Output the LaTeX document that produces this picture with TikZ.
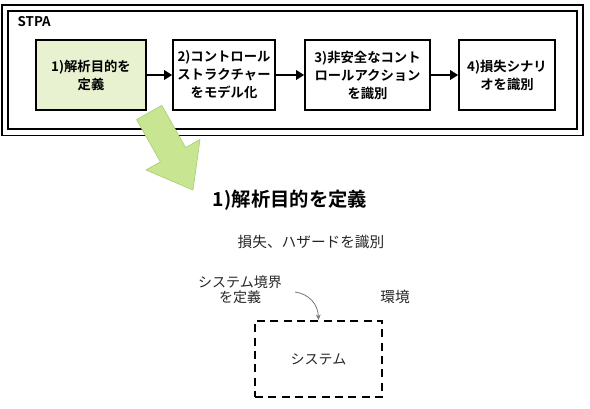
\documentclass[tikz,border=0pt]{standalone}
\usepackage{fontspec}
\setmainfont{Noto Sans CJK JP}[BoldFont={Noto Sans CJK JP Bold}]
\usetikzlibrary{positioning, arrows.meta, calc}
\definecolor{stepgreen}{RGB}{232,241,208}
\definecolor{zoomfill}{RGB}{200,229,146}
\definecolor{zoomedge}{RGB}{172,206,118}
\tikzset{
  stage/.style   = {draw, line width=1.2pt, fill=white, minimum height=52.5pt,
                    align=center, font=\bfseries\fontsize{10}{13.5}\selectfont, inner sep=1pt},
  current/.style = {stage, fill=stepgreen},
  flow/.style    = {-{Triangle[length=6pt,width=7pt]}, line width=1.5pt},
  stpabox/.style = {draw, double, line width=1.4pt, double distance=3.2pt,
                    minimum width=430.9pt, minimum height=93.4pt, inner sep=0pt},
  zoomarrow/.style = {fill=zoomfill, draw=zoomedge, line width=0.5pt, line join=round},
  note/.style    = {align=center, text=black!85, font=\fontsize{10.5}{11.5}\selectfont},
  sysline/.style = {draw, line width=1.6pt, dash pattern=on 6pt off 4pt,
                    minimum width=95.25pt, minimum height=57pt},
  hint/.style    = {-{Stealth[length=4pt,width=3.5pt]}, draw=black!55, line width=0.6pt},
}

\begin{document}
\begin{tikzpicture}[x=0.75pt, y=-0.75pt]
  \useasboundingbox (0,0) rectangle (590,408);

  % STPA overview
  \node[stpabox] at (292.5,70.2) (stpa) {};
  \node[font=\bfseries\fontsize{10}{12}\selectfont, anchor=west] at (13,22) (stpatitle) {STPA};

  \node[current, minimum width=82.5pt]  at ( 91,  75) (s1) {1)解析目的を\\定義};
  \node[stage,   minimum width=76.5pt]  at (224,  75) (s2) {2)コントロール\\ストラクチャー\\をモデル化};
  \node[stage,   minimum width=93.75pt] at (367.5,75) (s3) {3)非安全なコント\\ロールアクション\\を識別};
  \node[stage,   minimum width=72pt]    at (507,  75) (s4) {4)損失シナリ\\オを識別};

  \draw[flow] (s1) -- (s2);
  \draw[flow] (s2) -- (s3);
  \draw[flow] (s3) -- (s4);

  % zoom into step 1
  \filldraw[zoomarrow] (136.6,119.6) -- (161.8,105.4) -- (185.6,147.6) -- (200,139.4)
    -- (193,190) -- (146,170) -- (160.4,161.8) -- cycle;

  \node[font=\bfseries\fontsize{14.5}{16}\selectfont] at (290,200) (head) {1)解析目的を定義};
  \node[note, font=\fontsize{11}{12}\selectfont]      at (311,242) (loss) {損失、ハザードを識別};
  \node[note] at (240,290) (bnd) {システム境界\\を定義};
  \node[note, font=\fontsize{11}{12}\selectfont] at (395,297) (env) {環境};
  \node[sysline, note] at (318.5,359) (sys) {システム};

  \coordinate (tail) at (295,292);
  \draw[hint] (tail) .. controls (309,294) and (318,304) .. (sys.north);
\end{tikzpicture}
\end{document}
